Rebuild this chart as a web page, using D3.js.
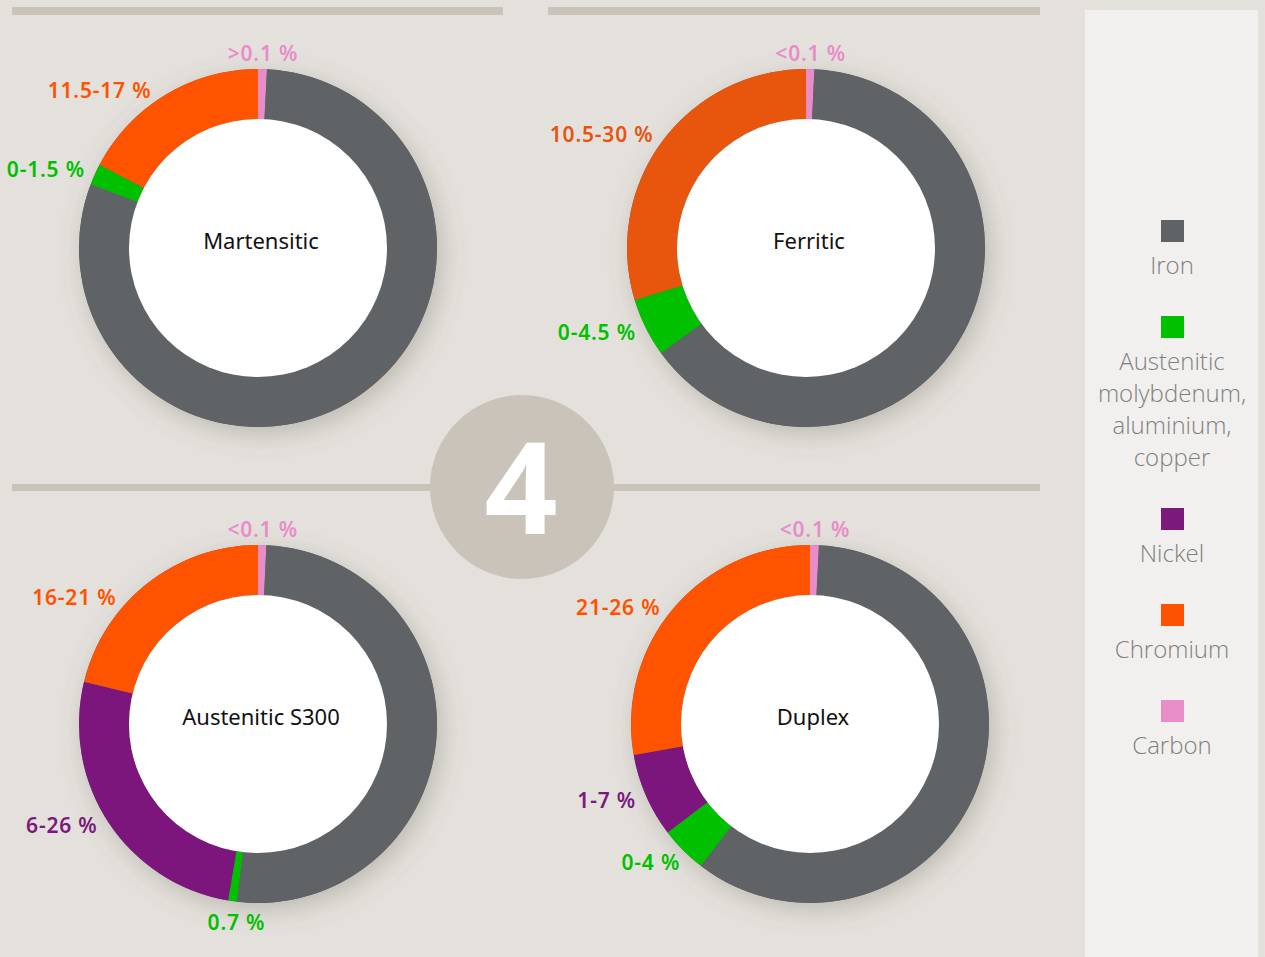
<!DOCTYPE html>
<html>
<head>
<meta charset="utf-8">
<script src="https://cdn.jsdelivr.net/npm/d3@7"></script>
<style>
  body { margin: 0; background: #e4e1dc; }
  svg { display: block; }
</style>
</head>
<body>
<svg id="chart"></svg>
<script>
let width = 1265,
  height = 957

// slice order, clockwise from 12 o'clock
let elements = ["Carbon", "Iron", "Austenitic", "Nickel", "Chromium"]
let grades = ["Martensitic", "Ferritic", "Austenitic S300", "Duplex"]

// visual share of each slice (%)
let martensitic = [0.8, 80, 1.9, 0, 17.3]
let ferritic = [0.75, 64.3, 5.3, 0, 29.7]
let austenitic = [0.75, 51.1, 0.8, 26.1, 21.2]
let duplex = [0.8, 59.7, 4.2, 7.6, 27.8]

let martensiticLabels = [">0.1 %", null, "0-1.5 %", null, "11.5-17 %"]
let ferriticLabels = ["<0.1 %", null, "0-4.5 %", null, "10.5-30 %"]
let austeniticLabels = ["<0.1 %", null, "0.7 %", "6-26 %", "16-21 %"]
let duplexLabels = ["<0.1 %", null, "0-4 %", "1-7 %", "21-26 %"]

let legendKeys = ["Iron", "Austenitic", "Nickel", "Chromium", "Carbon"]
let legendText = [["Iron"], ["Austenitic", "molybdenum,", "aluminium,", "copper"], ["Nickel"], ["Chromium"], ["Carbon"]]

let series = [martensitic, ferritic, austenitic, duplex]
let labelSets = [martensiticLabels, ferriticLabels, austeniticLabels, duplexLabels]

// layout: ring centres and small angle nudges (degrees) for the % labels
let centers = [[258, 248], [806, 248], [258, 724], [810, 724]]
let nudges = [[0, 0, 0, 0, -3], [0, 0, 0, 0, 0], [0, 0, -2, 1, -10], [0, 0, -2, 0, -2]]

let scales = {
  fill: d3.scaleOrdinal()
    .domain(elements)
    .range(["#e88dc8", "#5f6366", "#00c000", "#7b197c", "#ff5200"])
}
// the ferritic ring uses a slightly darker chromium
let shade = (grade, el) => grade == "Ferritic" && el == "Chromium" ? "#e8540f" : scales.fill(el)

let svg = d3.select("#chart")
  .attr("width", width)
  .attr("height", height)

let defs = svg.append("defs")
let shadow = defs.append("filter")
  .attr("id", "shadow")
  .attr("x", "-30%").attr("y", "-30%")
  .attr("width", "160%").attr("height", "160%")
shadow.append("feDropShadow")
  .attr("dx", 5).attr("dy", 7)
  .attr("stdDeviation", 12)
  .attr("flood-color", "#6b6257")
  .attr("flood-opacity", 0.32)

svg.append("rect")
  .attr("width", width).attr("height", height)
  .attr("fill", "#e4e1dc")

// divider bars
let bar = "#c9c3b9"
svg.append("rect").attr("x", 12).attr("y", 7).attr("width", 491).attr("height", 8).attr("fill", bar)
svg.append("rect").attr("x", 548).attr("y", 7).attr("width", 492).attr("height", 8).attr("fill", bar)
svg.append("rect").attr("x", 12).attr("y", 484).attr("width", 1028).attr("height", 7).attr("fill", bar)

svg.append("circle")
  .attr("cx", 522).attr("cy", 487).attr("r", 92)
  .attr("fill", bar)
svg.append("text")
  .attr("x", 521).attr("y", 534)
  .attr("text-anchor", "middle")
  .attr("font-family", "Noto Sans")
  .attr("font-weight", "bold")
  .attr("font-size", 128)
  .attr("fill", "#fff")
  .text("4")

let pie = d3.pie().sort(null).value(d => d.value)
let arc = d3.arc().innerRadius(129).outerRadius(179)

grades.forEach((grade, i) => {
  let rows = elements.map((el, j) => ({ el: el, value: series[i][j], label: labelSets[i][j], nudge: nudges[i][j] }))
  let g = svg.append("g")
    .attr("transform", `translate(${centers[i]})`)

  let ring = g.append("g").attr("filter", "url(#shadow)")
  ring.append("circle").attr("r", 179).attr("fill", "#5f6366")
  ring.selectAll("path")
    .data(pie(rows).filter(d => d.data.value > 0))
    .enter()
    .append("path")
    .attr("d", arc)
    .attr("fill", d => shade(grade, d.data.el))
  g.append("circle").attr("r", 129).attr("fill", "#fff")

  g.append("text")
    .attr("x", 3)
    .attr("y", -7)
    .attr("dy", "0.35em")
    .attr("text-anchor", "middle")
    .attr("font-family", "Noto Sans")
    .attr("font-size", 22)
    .attr("fill", "#111")
    .text(grade)

  g.selectAll("text.pct")
    .data(pie(rows).filter(d => d.data.label))
    .enter()
    .append("text")
    .attr("class", "pct")
    .each(function (d) {
      let mid = (d.startAngle + d.endAngle) / 2 + d.data.nudge * Math.PI / 180
      let s = Math.sin(mid), c = -Math.cos(mid)
      let centred = Math.abs(s) < 0.3
      let r = centred ? (c < 0 ? 195 : 200) : 190
      d3.select(this)
        .attr("x", r * s)
        .attr("y", r * c)
        .attr("text-anchor", centred ? "middle" : (s < 0 ? "end" : "start"))
    })
    .attr("dy", "0.36em")
    .attr("font-family", "Noto Sans")
    .attr("font-weight", 600)
    .attr("font-size", 21)
    .attr("letter-spacing", 0.8)
    .attr("fill", d => shade(grade, d.data.el))
    .text(d => d.data.label)
})

// legend panel
svg.append("rect")
  .attr("x", 1085).attr("y", 10)
  .attr("width", 173).attr("height", height)
  .attr("fill", "#f1f0ee")

let y = 220
legendKeys.forEach((key, i) => {
  svg.append("rect")
    .attr("x", 1161).attr("y", y)
    .attr("width", 23).attr("height", 22)
    .attr("fill", scales.fill(key))
  y += 46
  legendText[i].forEach((line, k) => {
    if (k > 0) y += 32
    svg.append("text")
      .attr("x", 1172).attr("y", y)
      .attr("dy", "0.35em")
      .attr("text-anchor", "middle")
      .attr("font-family", "Open Sans")
      .attr("font-weight", 300)
      .attr("font-size", 24)
      .attr("fill", "#808080")
      .text(line)
  })
  y += 50
})
</script>
</body>
</html>
